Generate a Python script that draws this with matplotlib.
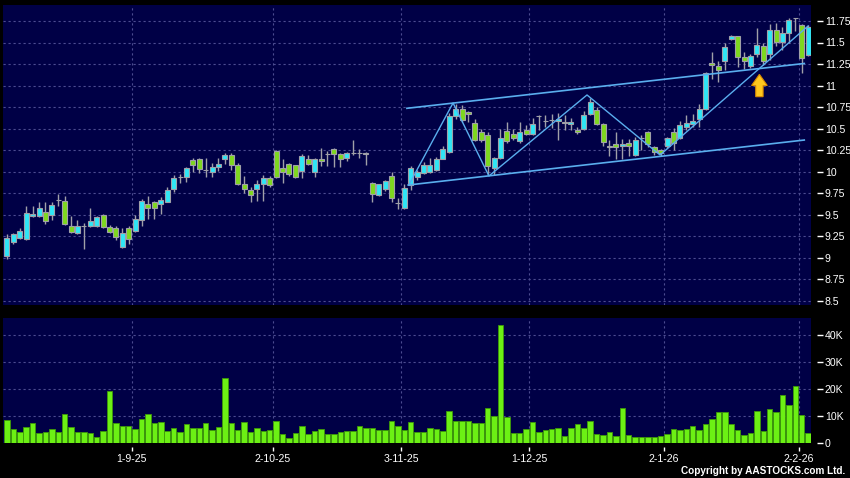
import matplotlib
matplotlib.use("Agg")
import matplotlib.pyplot as plt
from matplotlib.patches import FancyArrow
from matplotlib.ticker import FixedLocator, FuncFormatter
import numpy as np

# ---- data (one bar per trading day, Aug 2025 - Feb 2026) ----
opens = [9.02, 9.18, 9.23, 9.21, 9.48, 9.48, 9.53, 9.50, 9.67, 9.66,
         9.37, 9.28, 9.37, 9.37, 9.37, 9.49, 9.35, 9.34, 9.12, 9.34,
         9.31, 9.44, 9.62, 9.64, 9.62, 9.65, 9.80, 9.94, 9.94, 10.13,
         10.14, 10.02, 9.99, 10.05, 10.14, 10.19, 10.07, 9.85, 9.79, 9.80,
         9.86, 9.93, 10.24, 10.04, 10.09, 10.07, 10.01, 10.15, 9.99, 10.15,
         10.20, 10.26, 10.20, 10.16, 10.22, 10.22, 10.22, 9.87, 9.73, 9.80,
         9.95, 9.63, 9.57, 9.84, 9.94, 9.98, 9.99, 10.02, 10.15, 10.23,
         10.65, 10.73, 10.69, 10.56, 10.46, 10.42, 10.04, 10.16, 10.47, 10.44,
         10.35, 10.48, 10.44, 10.64, 10.59, 10.60, 10.59, 10.58, 10.55, 10.48,
         10.49, 10.67, 10.72, 10.55, 10.30, 10.32, 10.30, 10.33, 10.19, 10.39,
         10.46, 10.28, 10.25, 10.30, 10.46, 10.39, 10.52, 10.55, 10.61, 10.73,
         11.26, 11.23, 11.29, 11.54, 11.57, 11.33, 11.23, 11.37, 11.46, 11.37,
         11.64, 11.51, 11.61, 11.78, 11.70, 11.35]
highs = [9.27, 9.29, 9.34, 9.60, 9.60, 9.64, 9.64, 9.64, 9.74, 9.71,
         9.48, 9.44, 9.40, 9.58, 9.48, 9.51, 9.38, 9.37, 9.34, 9.37,
         9.49, 9.68, 9.72, 9.66, 9.70, 9.82, 9.96, 9.97, 10.05, 10.16,
         10.16, 10.16, 10.10, 10.16, 10.21, 10.21, 10.10, 9.95, 9.82, 9.90,
         9.96, 9.95, 10.25, 10.14, 10.10, 10.08, 10.20, 10.19, 10.16, 10.27,
         10.24, 10.27, 10.22, 10.23, 10.37, 10.26, 10.23, 9.88, 9.86, 9.90,
         10.00, 9.69, 9.85, 10.06, 10.02, 10.11, 10.16, 10.17, 10.30, 10.68,
         10.79, 10.77, 10.70, 10.61, 10.50, 10.46, 10.17, 10.50, 10.57, 10.49,
         10.58, 10.54, 10.62, 10.66, 10.66, 10.67, 10.68, 10.66, 10.62, 10.52,
         10.70, 10.85, 10.75, 10.56, 10.37, 10.46, 10.38, 10.38, 10.40, 10.43,
         10.47, 10.30, 10.26, 10.40, 10.51, 10.59, 10.66, 10.67, 10.78, 11.16,
         11.39, 11.28, 11.50, 11.59, 11.58, 11.39, 11.37, 11.67, 11.50, 11.72,
         11.73, 11.68, 11.79, 11.79, 11.72, 11.70]
lows = [8.98, 9.16, 9.21, 9.20, 9.47, 9.47, 9.39, 9.44, 9.60, 9.38,
        9.28, 9.27, 9.10, 9.36, 9.36, 9.34, 9.28, 9.20, 9.11, 9.16,
        9.30, 9.37, 9.45, 9.45, 9.51, 9.64, 9.76, 9.87, 9.88, 9.99,
        9.98, 9.94, 9.94, 10.01, 10.09, 10.02, 9.84, 9.75, 9.64, 9.66,
        9.66, 9.82, 9.93, 9.87, 9.95, 9.92, 9.92, 10.08, 9.94, 10.06,
        10.06, 10.05, 10.05, 10.12, 10.19, 10.16, 10.08, 9.65, 9.72, 9.77,
        9.65, 9.56, 9.56, 9.79, 9.90, 9.97, 9.98, 10.01, 10.14, 10.22,
        10.61, 10.58, 10.58, 10.36, 10.34, 9.96, 9.96, 10.15, 10.33, 10.37,
        10.33, 10.43, 10.42, 10.48, 10.52, 10.51, 10.37, 10.48, 10.48, 10.44,
        10.48, 10.66, 10.54, 10.30, 10.18, 10.15, 10.15, 10.18, 10.18, 10.25,
        10.28, 10.19, 10.18, 10.27, 10.25, 10.38, 10.48, 10.52, 10.52, 10.72,
        11.08, 11.04, 11.18, 11.53, 11.22, 11.19, 11.20, 11.33, 11.24, 11.30,
        11.46, 11.41, 11.50, 11.63, 11.14, 11.34]
closes = [9.23, 9.27, 9.31, 9.52, 9.51, 9.58, 9.43, 9.61, 9.67, 9.39,
          9.30, 9.37, 9.37, 9.43, 9.47, 9.35, 9.30, 9.24, 9.29, 9.21,
          9.45, 9.66, 9.58, 9.57, 9.67, 9.78, 9.92, 9.94, 10.04, 10.07,
          10.03, 10.02, 10.05, 10.09, 10.19, 10.08, 9.85, 9.80, 9.73, 9.86,
          9.93, 9.84, 9.94, 10.00, 9.97, 9.94, 10.18, 10.09, 10.15, 10.12,
          10.20, 10.20, 10.14, 10.22, 10.22, 10.22, 10.20, 9.74, 9.85, 9.89,
          9.69, 9.63, 9.81, 10.04, 9.99, 10.07, 10.08, 10.15, 10.26, 10.65,
          10.73, 10.60, 10.67, 10.37, 10.37, 10.06, 10.16, 10.39, 10.36, 10.39,
          10.46, 10.44, 10.55, 10.64, 10.59, 10.60, 10.61, 10.56, 10.58, 10.46,
          10.66, 10.81, 10.55, 10.34, 10.28, 10.28, 10.32, 10.30, 10.37, 10.39,
          10.32, 10.23, 10.21, 10.39, 10.33, 10.54, 10.56, 10.59, 10.73, 11.15,
          11.24, 11.18, 11.45, 11.57, 11.33, 11.28, 11.34, 11.47, 11.29, 11.64,
          11.50, 11.61, 11.76, 11.78, 11.32, 11.68]
# volume in thousands of shares
volumes = [8.6, 5.3, 4.1, 5.9, 7.4, 3.8, 4.2, 5.3, 4.1, 10.9,
           6.1, 4.1, 4.1, 3.8, 2.3, 4.6, 19.3, 7.4, 6.4, 6.3,
           5.2, 8.9, 10.8, 7.6, 8.0, 4.7, 5.7, 4.2, 7.3, 5.5,
           5.8, 7.4, 4.8, 6.0, 24.1, 7.6, 5.0, 7.9, 4.3, 5.7,
           4.4, 4.9, 8.2, 3.3, 1.8, 3.7, 6.3, 3.6, 4.4, 5.4,
           3.6, 3.4, 4.2, 4.4, 4.7, 6.3, 5.7, 5.8, 4.8, 4.9,
           8.1, 6.4, 4.8, 7.9, 4.1, 4.1, 5.8, 5.3, 4.7, 11.9,
           8.2, 8.2, 8.2, 7.4, 7.6, 13.0, 10.1, 43.5, 9.6, 3.8,
           3.9, 5.4, 8.0, 4.3, 4.9, 5.4, 5.8, 2.7, 5.8, 7.0,
           5.8, 8.2, 3.4, 3.1, 4.2, 2.8, 13.0, 3.2, 2.3, 2.5,
           2.3, 2.2, 2.8, 3.3, 5.3, 4.8, 5.3, 6.3, 4.8, 7.1,
           8.9, 11.6, 11.6, 7.1, 4.8, 3.2, 3.8, 11.9, 4.4, 12.7,
           11.4, 17.7, 14.1, 21.2, 10.3, 3.8]

# first trading day of each month (bar index) and its label
month_starts = [20, 42, 62, 82, 103, 124]
month_labels = ['1-9-25', '2-10-25', '3-11-25', '1-12-25', '2-1-26', '2-2-26']

price_ticks = [8.5, 8.75, 9, 9.25, 9.5, 9.75, 10, 10.25, 10.5, 10.75, 11, 11.25, 11.5, 11.75]
volume_ticks = [0, 10, 20, 30, 40]

# hand drawn analysis lines (bar index, price)
channel_top_x, channel_top_y = [62.4, 124.4], [10.735, 11.256]
channel_bot_x, channel_bot_y = [62.6, 124.4], [9.843, 10.366]
zigzag_x = [62.7, 69.6, 75.2, 90.5, 101.9, 125.0]
zigzag_y = [9.843, 10.797, 9.948, 10.89, 10.192, 11.692]
arrow_x, arrow_base, arrow_tip = 117.4, 10.87, 11.13

# ---- style ----
BG = '#000000'
PANEL = '#000046'
GRID = '#4C4C90'
UP = '#2EE6F6'
DOWN = '#7ED81E'
EDGE = '#A0A0A8'
VOL = '#6CF014'
VOL_EDGE = '#3E9A08'
LINE = '#5AAEEE'
plt.rcParams['font.family'] = ['Liberation Sans', 'DejaVu Sans']

fig = plt.figure(figsize=(8.5, 4.78), dpi=100, facecolor=BG)
W, H = 850, 478
x0, x1 = 3, 811
ax = fig.add_axes([x0 / W, 1 - 305 / H, (x1 - x0) / W, 300 / H], facecolor=PANEL)
axv = fig.add_axes([x0 / W, 1 - 443.3 / H, (x1 - x0) / W, 125 / H], facecolor=PANEL, sharex=ax)

n = len(closes)
xs = np.arange(n)
o = np.array(opens)
c = np.array(closes)
up = c >= o
colors = np.where(up, UP, DOWN)

ax.vlines(xs, lows, highs, color=EDGE, lw=1, zorder=2)
ax.bar(xs, np.abs(c - o), bottom=np.minimum(o, c), width=0.78,
       color=colors, edgecolor=EDGE, linewidth=0.8, zorder=3)

ax.plot(channel_top_x, channel_top_y, color=LINE, lw=1.2, zorder=4)
ax.plot(channel_bot_x, channel_bot_y, color=LINE, lw=1.2, zorder=4)
ax.plot(zigzag_x, zigzag_y, color=LINE, lw=1.0, zorder=4)
ax.add_patch(FancyArrow(arrow_x, arrow_base, 0, arrow_tip - arrow_base,
                        width=1.15, head_width=2.45, head_length=0.13,
                        length_includes_head=True, fc='#FFC81E', ec='#D98A00',
                        lw=0.8, zorder=5))

axv.bar(xs, volumes, width=0.85, color=VOL, edgecolor=VOL_EDGE, linewidth=0.6, zorder=3)

xlim = (-0.62, 125.45)
ax.set_xlim(*xlim)
ax.set_ylim(8.448, 11.936)
axv.set_ylim(0, 46.1)

grid_x = [m - 0.5 for m in month_starts]
for a in (ax, axv):
    for s in a.spines.values():
        s.set_visible(False)
    a.spines['right'].set_position(('outward', 4))
    a.spines['bottom'].set_position(('outward', 3))
    a.yaxis.tick_right()
    a.tick_params(axis='y', colors='white', labelcolor='white', length=4,
                  width=1, pad=2, labelsize=7.6)
    a.grid(True, color=GRID, linestyle=(0, (2, 2.5)), linewidth=0.8, zorder=1)
    a.set_axisbelow(True)

ax.yaxis.set_major_locator(FixedLocator(price_ticks))
ax.yaxis.set_major_formatter(FuncFormatter(lambda v, p: '%g' % v))
axv.yaxis.set_major_locator(FixedLocator(volume_ticks))
axv.yaxis.set_major_formatter(FuncFormatter(lambda v, p: '0' if v == 0 else '%dK' % v))

axv.set_xticks(grid_x)
axv.set_xticklabels(month_labels)
axv.tick_params(axis='x', colors='white', labelcolor='white', length=3,
                width=1, pad=2, labelsize=7.6)
ax.tick_params(axis='x', length=0, labelbottom=False)

fig.text(845 / W, 1 - 476 / H, 'Copyright by AASTOCKS.com Ltd.', ha='right', va='bottom',
         color='white', fontsize=7.2, fontweight='bold')

fig.savefig('out.png', dpi=100, facecolor=BG)
